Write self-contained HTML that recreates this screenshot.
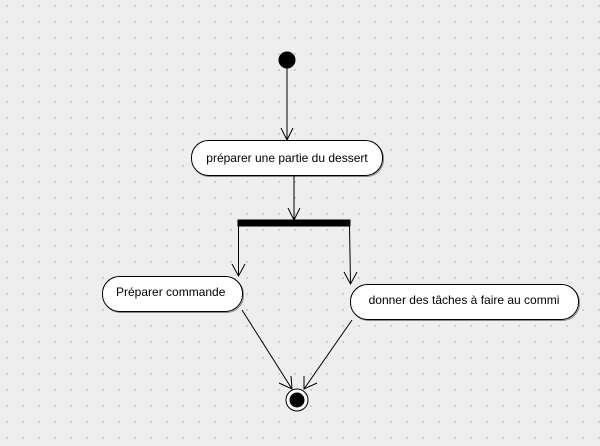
<!DOCTYPE html><html><head><style>
body{margin:0;width:600px;height:446px;overflow:hidden;background-color:#eeeeee;
background-image:radial-gradient(circle,#c4c4c4 0.8px,transparent 1px);background-size:16px 16px;background-position:-1px -2px;}
svg{position:absolute;left:0;top:0}
text{font-family:"Liberation Sans",sans-serif;font-size:12px;fill:#000}
</style></head><body>
<svg width="600" height="446" viewBox="0 0 600 446">
<g stroke="#888" fill="none" stroke-width="1">
<rect x="192.5" y="141.5" width="191" height="35" rx="17"/>
<rect x="103.5" y="277.5" width="140" height="35" rx="17"/>
<rect x="351.5" y="285.5" width="228" height="35" rx="17"/>
</g>
<g stroke="#000" fill="none" stroke-width="1">
<circle cx="287" cy="60" r="8" fill="#000"/>
<line x1="287" y1="68" x2="287" y2="140"/><polyline points="281,128 287,140 293,128"/>
<rect x="191.5" y="140.5" width="191" height="35" rx="17" fill="#fff"/>
<line x1="294" y1="176" x2="294" y2="220"/><polyline points="288,208 294,220 300,208"/>
<rect x="238" y="220" width="112" height="6" fill="#000"/>
<line x1="238.5" y1="226" x2="238.5" y2="276"/><polyline points="232,264 238.5,276 245,264"/>
<line x1="349.5" y1="226" x2="350.5" y2="284"/><polyline points="344,272 350.5,284 357,272"/>
<rect x="102.5" y="276.5" width="140" height="35" rx="17" fill="#fff"/>
<rect x="350.5" y="284.5" width="228" height="35" rx="17" fill="#fff"/>
<line x1="242" y1="310" x2="292" y2="389"/><polyline points="279,383 292,389 291,376"/>
<line x1="352" y1="320" x2="304" y2="389"/><polyline points="304,376 304,389 317,383"/>
<circle cx="297" cy="400" r="11" fill="#fff"/>
<circle cx="297" cy="400" r="7" fill="#000"/>
</g>
<text x="287" y="162" text-anchor="middle">préparer une partie du dessert</text>
<text x="116" y="296">Préparer commande</text>
<text x="464" y="304" text-anchor="middle">donner des tâches à faire au commi</text>
</svg></body></html>
